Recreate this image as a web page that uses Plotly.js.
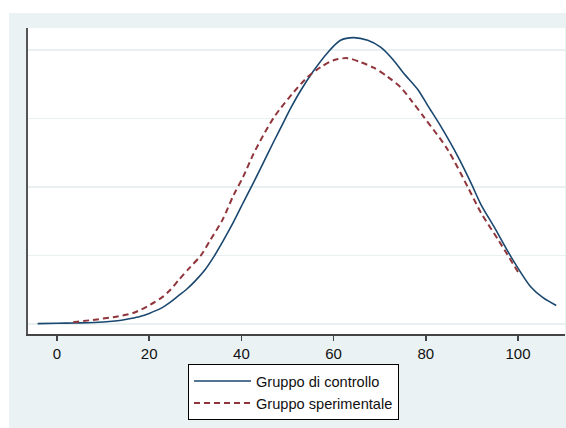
<!DOCTYPE html>
<html>
<head>
<meta charset="utf-8">
<script src="https://cdn.plot.ly/plotly-3.0.1.min.js"></script>
<style>html,body{margin:0;padding:0;background:#fff;}#chart{width:566px;height:428px;}</style>
</head>
<body>
<div id="chart"></div>
<script>
// Gruppo di controllo (kernel density)
const controlloX = [-4.2, 0, 4, 8, 12, 14, 16, 18, 20, 22.4, 24.6, 26.3, 28, 30, 32.2, 34.1, 36.1, 38.3, 40.4, 42.6, 44.8, 47.0, 49.1, 50.7, 52.8, 55.4, 58.7, 61.5, 64.3, 67.4, 70.2, 73.0, 75.2, 78.3, 80.5, 83.3, 87.0, 89.8, 92.0, 94.8, 98.5, 102.8, 105.5, 108.3];
const controlloY = [0.000025, 0.00005, 0.000075, 0.00011, 0.0002, 0.000275, 0.0004, 0.00055, 0.000775, 0.00112, 0.0016, 0.00205, 0.0025, 0.00315, 0.004, 0.00495, 0.0061, 0.00745, 0.00885, 0.0103, 0.0118, 0.0133, 0.0147, 0.01575, 0.017, 0.01835, 0.0198, 0.0207, 0.0209, 0.0207, 0.0202, 0.01925, 0.0183, 0.0171, 0.0159, 0.0144, 0.0122, 0.0103, 0.0087, 0.0071, 0.0049, 0.0027, 0.0019, 0.00135];
// Gruppo sperimentale (kernel density)
const sperimentaleX = [3.5, 7.8, 12.2, 16.5, 20.2, 23, 24.6, 26.5, 28.9, 31.2, 33.3, 35.9, 38.3, 40.4, 42.6, 44.8, 47.0, 48.5, 51.3, 54.3, 57.2, 60.0, 63.0, 65.9, 68.7, 71.7, 74.6, 77, 79.6, 84.8, 89.1, 92.0, 95.7, 100.0];
const sperimentaleY = [0.000125, 0.0003, 0.0005, 0.0008, 0.0014, 0.002, 0.0025, 0.00325, 0.00415, 0.005, 0.00615, 0.0076, 0.0094, 0.01075, 0.0124, 0.0138, 0.01505, 0.01575, 0.0169, 0.0180, 0.01875, 0.01925, 0.0194, 0.0191, 0.0187, 0.01805, 0.01725, 0.01625, 0.0151, 0.0127, 0.01, 0.0081, 0.00615, 0.0038];
const seriesNames = ["Gruppo di controllo", "Gruppo sperimentale"];
const xTicks = [0, 20, 40, 60, 80, 100];
const yGrid = [0, 0.005, 0.01, 0.015, 0.02];

const traces = [
  {x: controlloX, y: controlloY, name: seriesNames[0], type: 'scatter', mode: 'lines',
   line: {color: '#1A476F', width: 1.6, shape: 'spline', smoothing: 0.8}},
  {x: sperimentaleX, y: sperimentaleY, name: seriesNames[1], type: 'scatter', mode: 'lines',
   line: {color: '#90353B', width: 2, dash: '6px,4px', shape: 'spline', smoothing: 0.8}}
];

const W = 537, H = 306; // plot area size in px
const layout = {
  width: 566, height: 428,
  paper_bgcolor: '#EAF2F3',
  plot_bgcolor: '#ffffff',
  margin: {l: 28, r: 1, t: 28, b: 94, pad: 0},
  font: {family: 'Liberation Sans, Arial, sans-serif', color: '#111'},
  showlegend: true,
  xaxis: {
    range: [-6.29, 110.2], tickvals: xTicks, ticktext: xTicks.map(String),
    showgrid: false, zeroline: false, showline: true, linecolor: '#444', linewidth: 2,
    ticks: 'outside', ticklen: 5, tickwidth: 1.5, tickcolor: '#444',
    tickfont: {size: 15, color: '#111'}, fixedrange: true
  },
  yaxis: {
    range: [-0.00073, 0.0216], tickvals: yGrid, showticklabels: false,
    showgrid: true, gridcolor: '#E8F0F2', gridwidth: 1.2, zeroline: false,
    showline: true, linecolor: '#555', linewidth: 2, ticks: '', fixedrange: true
  },
  legend: {
    x: (188 - 28) / W, y: (334 - 364) / H, xanchor: 'left', yanchor: 'top',
    bgcolor: '#ffffff', bordercolor: '#000', borderwidth: 1,
    font: {size: 14.6, color: '#111'}, tracegroupgap: 0, itemwidth: 57
  },
  shapes: [
    // white strip above the graph region
    {type: 'rect', xref: 'paper', yref: 'paper', layer: 'above',
     x0: -28 / W, x1: 538 / W, y0: (334 - 13) / H, y1: 334 / H,
     fillcolor: '#ffffff', line: {width: 0}},
    // white strip left of the graph region
    {type: 'rect', xref: 'paper', yref: 'paper', layer: 'above',
     x0: -28 / W, x1: -19 / W, y0: -94 / H, y1: 334 / H,
     fillcolor: '#ffffff', line: {width: 0}}
  ]
};

Plotly.newPlot('chart', traces, layout, {displayModeBar: false, staticPlot: true});
</script>
</body>
</html>
